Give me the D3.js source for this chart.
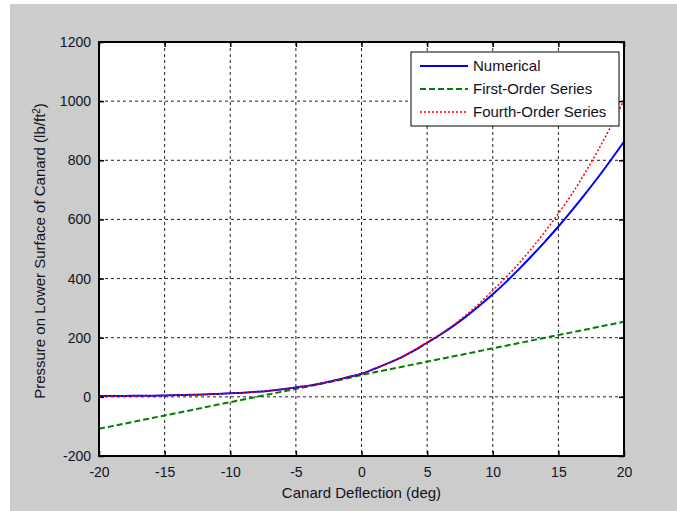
<!doctype html>
<html>
<head>
<meta charset="utf-8">
<script src="https://cdn.jsdelivr.net/npm/d3@7"></script>
<style>
  body { margin: 0; background: #fff; }
  svg text { font-family: "Liberation Sans", Arial, sans-serif; fill: #111122; }
</style>
</head>
<body>
<div id="chart"></div>
<script>
  var w = 677, h = 511;
  var margin = { top: 42, right: 53, bottom: 55, left: 99 };

  // canard deflection, deg
  var deflection = d3.range(-20, 21);
  // pressure values, lb/ft^2
  var numerical = [3, 3, 3, 4, 4, 5, 6, 7, 8, 10, 12, 14, 17, 21, 26, 32, 38, 46, 56, 67,
                   78, 95, 113, 133, 156, 183, 210, 240, 273, 309, 347, 388, 432, 478, 526, 576,
                   629, 684, 741, 801, 863];
  var firstOrder = [-108, -99, -90, -81, -72, -63, -54, -45, -36, -27, -18, -9, 0, 9, 18, 27, 36, 45, 54, 64,
                    74, 83, 92, 101, 110, 119, 128, 137, 146, 155, 164, 173, 182, 191, 200, 209,
                    218, 227, 236, 245, 254];
  var fourthOrder = [2, 2, 3, 3, 4, 5, 6, 7, 8, 10, 12, 14, 17, 21, 26, 32, 38, 46, 56, 67,
                     78, 95, 113, 134, 158, 185, 212, 243, 278, 317, 360, 404, 452, 504, 560, 620,
                     684, 755, 832, 915, 1005];
  var seriesNames = ["Numerical", "First-Order Series", "Fourth-Order Series"];
  var xTicks = [-20, -15, -10, -5, 0, 5, 10, 15, 20];
  var yTicks = [-200, 0, 200, 400, 600, 800, 1000, 1200];

  var svg = d3.select("#chart").append("svg")
      .attr("width", w)
      .attr("height", h);

  // grey figure background
  svg.append("rect")
      .attr("x", 10).attr("y", 4)
      .attr("width", w - 10).attr("height", h - 4)
      .attr("fill", "#cccccc");

  var x = d3.scaleLinear().domain([-20, 20]).range([margin.left, w - margin.right]);
  var y = d3.scaleLinear().domain([-200, 1200]).range([h - margin.bottom, margin.top]);

  var pw = x.range()[1] - x.range()[0];
  var ph = y.range()[0] - y.range()[1];

  svg.append("rect")
      .attr("x", margin.left).attr("y", margin.top)
      .attr("width", pw).attr("height", ph)
      .attr("fill", "#fff");

  // dotted grid
  var grid = svg.append("g").attr("stroke", "#222").attr("stroke-dasharray", "3,3").attr("stroke-width", 1);
  grid.selectAll(".gx").data(xTicks.slice(1, -1)).enter().append("line")
      .attr("x1", d => x(d)).attr("x2", d => x(d))
      .attr("y1", margin.top).attr("y2", h - margin.bottom);
  grid.selectAll(".gy").data(yTicks.slice(1, -1)).enter().append("line")
      .attr("y1", d => y(d)).attr("y2", d => y(d))
      .attr("x1", margin.left).attr("x2", w - margin.right);

  // curves
  svg.append("clipPath").attr("id", "clip").append("rect")
      .attr("x", margin.left).attr("y", margin.top).attr("width", pw).attr("height", ph);

  var line = d3.line().x((d, i) => x(deflection[i])).y(d => y(d)).curve(d3.curveMonotoneX);
  var styles = [
    { data: numerical, color: "#0000ff", dash: null, width: 2 },
    { data: firstOrder, color: "#008000", dash: "6,3", width: 2 },
    { data: fourthOrder, color: "#ff0000", dash: "2,2", width: 1.5 }
  ];
  var plot = svg.append("g").attr("clip-path", "url(#clip)");
  // green first, then blue, red on top
  [1, 0, 2].forEach(function (k) {
    var s = styles[k];
    plot.append("path")
        .datum(s.data)
        .attr("fill", "none")
        .attr("stroke", s.color)
        .attr("stroke-width", s.width)
        .attr("stroke-dasharray", s.dash)
        .attr("d", line);
  });

  // axes, ticks inside on all sides
  var fmt = d => String(d); // plain hyphen minus, no thousands comma
  var fs = "14px";
  svg.append("g")
      .attr("transform", "translate(0," + (h - margin.bottom) + ")")
      .call(d3.axisBottom(x).tickValues(xTicks).tickSize(-5).tickPadding(11).tickFormat(fmt))
      .call(g => g.select(".domain").remove())
      .call(g => g.selectAll("text").style("font-size", fs));
  svg.append("g")
      .attr("transform", "translate(0," + margin.top + ")")
      .call(d3.axisTop(x).tickValues(xTicks).tickSize(-5).tickFormat(""))
      .call(g => g.select(".domain").remove());
  svg.append("g")
      .attr("transform", "translate(" + margin.left + ",0)")
      .call(d3.axisLeft(y).tickValues(yTicks).tickSize(-5).tickPadding(8).tickFormat(fmt))
      .call(g => g.select(".domain").remove())
      .call(g => g.selectAll("text").style("font-size", fs));
  svg.append("g")
      .attr("transform", "translate(" + (w - margin.right) + ",0)")
      .call(d3.axisRight(y).tickValues(yTicks).tickSize(-5).tickFormat(""))
      .call(g => g.select(".domain").remove());
  svg.selectAll(".tick line").attr("stroke", "#000").attr("stroke-width", 1.5);

  // axes box
  svg.append("rect")
      .attr("x", margin.left).attr("y", margin.top)
      .attr("width", pw).attr("height", ph)
      .attr("fill", "none").attr("stroke", "#000").attr("stroke-width", 2);

  // axis titles
  var fl = "15px";
  svg.append("text")
      .attr("text-anchor", "middle")
      .attr("x", x(0)).attr("y", 498)
      .style("font-size", fl)
      .text("Canard Deflection (deg)");

  var yt = svg.append("text")
      .attr("text-anchor", "middle")
      .attr("transform", "translate(45," + (y(500) + 2) + ")rotate(-90)")
      .style("font-size", fl);
  yt.append("tspan").text("Pressure on Lower Surface of Canard (lb/ft");
  yt.append("tspan").attr("dy", -5).style("font-size", "10px").text("2");
  yt.append("tspan").attr("dy", 5).text(")");

  // legend
  var lg = svg.append("g").attr("transform", "translate(411,52)");
  lg.append("rect")
      .attr("width", 208).attr("height", 74)
      .attr("fill", "#fff").attr("stroke", "#000").attr("stroke-width", 1);
  var rows = lg.selectAll(".row").data(seriesNames).enter().append("g")
      .attr("transform", (d, i) => "translate(0," + (14 + i * 23) + ")");
  rows.append("line")
      .attr("x1", 9).attr("x2", 57)
      .attr("stroke", (d, i) => styles[i].color)
      .attr("stroke-width", (d, i) => styles[i].width)
      .attr("stroke-dasharray", (d, i) => styles[i].dash);
  rows.append("text")
      .attr("x", 62).attr("dy", "0.36em")
      .style("font-size", fl)
      .text(d => d);
</script>
</body>
</html>
